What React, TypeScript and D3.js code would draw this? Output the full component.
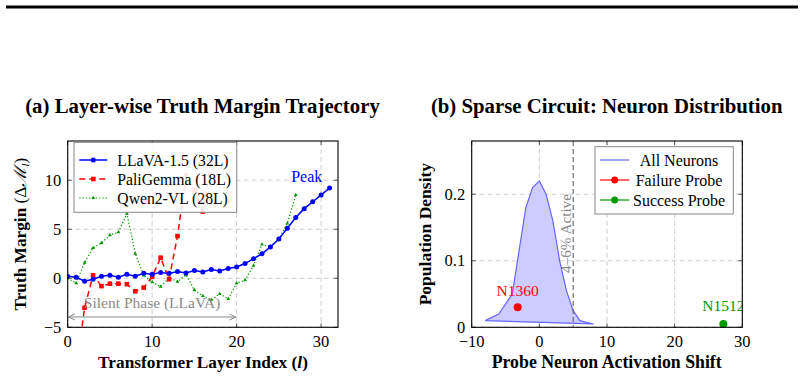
import React from "react";
import * as d3 from "d3";

// ---- data ----
const llavaMargin = [
  0.2, 0.1, -0.3, -0.1, 0.2, 0.3, 0.1, 0.4, 0.2, 0.5, 0.4, 0.6, 0.5, 0.7, 0.55, 0.8,
  0.65, 0.9, 0.75, 1.0, 1.15, 1.5, 2.0, 2.5, 3.2, 4.0, 5.1, 6.2, 7.1, 7.8, 8.5, 9.2,
];
const paliMargin = [
  -15, -9.5, -3.0, 0.3, -0.8, -0.55, -0.55, -0.6, -1.33, -0.95, 0.15, 2.1, -0.1, 4.3,
  10.5, 9.0, 6.8, 12.0,
];
const qwenMargin = [
  0.0, -0.5, 1.6, 3.1, 3.6, 4.4, 4.7, 6.6, 2.5, 0.3, -0.4, -0.85, 0.05, -0.35, 0.35,
  -1.2, -1.8, -2.2, -1.6, -2.1, -0.5, -0.2, 1.3, 3.45, 3.2, 4.0, 5.6, 8.5,
];

const densityX = [-8, -6, -4, -2, -1, 0, 1, 2, 3, 4, 5, 6, 8];
const densityY = [0.01, 0.02, 0.05, 0.18, 0.21, 0.22, 0.2, 0.16, 0.1, 0.055, 0.025, 0.01, 0.005];

const failureProbe = { name: "N1360", x: -3.2, y: 0.03 };
const successProbe = { name: "N1512", x: 27.2, y: 0.005 };

const leftXTicks = [0, 10, 20, 30];
const leftYTicks = [-5, 0, 5, 10];
const rightXTicks = [-10, 0, 10, 20, 30];
const rightYTicks = [0, 0.1, 0.2];

const FONT = "'Liberation Serif', 'Times New Roman', serif";
const BLUE = "#0000ff";
const RED = "#ff0000";
const GREEN = "#009900";
const GRID = "#cfcfcf";

const fmt = (v: number) => (v < 0 ? "\u2212" + Math.abs(v) : String(v));

const App: React.FC = () => {
  // left panel
  const L = { left: 67.7, right: 338, top: 141, bottom: 327.3 };
  const xL = d3.scaleLinear().domain([0, 32]).range([L.left, L.right]);
  const yL = d3.scaleLinear().domain([-5, 14]).range([L.bottom, L.top]);

  // right panel
  const R = { left: 471.7, right: 742.3, top: 141, bottom: 327.3 };
  const xR = d3.scaleLinear().domain([-10, 30]).range([R.left, R.right]);
  const yR = d3.scaleLinear().domain([0, 0.28]).range([R.bottom, R.top]);

  const lineL = d3
    .line<number>()
    .x((_, i) => xL(i))
    .y((d) => yL(d));

  const densityPts: [number, number][] = densityX.map((x, i) => [xR(x), yR(densityY[i])]);
  const densityPath = d3.line()(densityPts) + "Z";

  const tri = (cx: number, cy: number, s: number) =>
    `M${cx},${cy - s} L${cx + s * 0.87},${cy + s * 0.5} L${cx - s * 0.87},${cy + s * 0.5}Z`;

  const frame = (B: typeof L, xs: number[], ys: number[], xs_: (v: number) => number, ys_: (v: number) => number) => (
    <g>
      {xs.map((t) => (
        <line key={"gx" + t} x1={xs_(t)} x2={xs_(t)} y1={B.top} y2={B.bottom} stroke={GRID} strokeDasharray="5,3" />
      ))}
      {ys.map((t) => (
        <line key={"gy" + t} x1={B.left} x2={B.right} y1={ys_(t)} y2={ys_(t)} stroke={GRID} strokeDasharray="5,3" />
      ))}
    </g>
  );

  const ticksAndBox = (B: typeof L, xs: number[], ys: number[], xs_: (v: number) => number, ys_: (v: number) => number, yfmt: (v: number) => string) => (
    <g>
      {xs.map((t) => (
        <g key={"tx" + t}>
          <line x1={xs_(t)} x2={xs_(t)} y1={B.bottom} y2={B.bottom - 4} stroke="#333" strokeWidth={0.8} />
          <line x1={xs_(t)} x2={xs_(t)} y1={B.top} y2={B.top + 4} stroke="#333" strokeWidth={0.8} />
          <text x={xs_(t)} y={B.bottom + 20} textAnchor="middle" fontSize={16.5} fontFamily={FONT}>
            {fmt(t)}
          </text>
        </g>
      ))}
      {ys.map((t) => (
        <g key={"ty" + t}>
          <line x1={B.left} x2={B.left + 4} y1={ys_(t)} y2={ys_(t)} stroke="#333" strokeWidth={0.8} />
          <line x1={B.right} x2={B.right - 4} y1={ys_(t)} y2={ys_(t)} stroke="#333" strokeWidth={0.8} />
          <text x={B.left - 6.5} y={ys_(t) + 5.5} textAnchor="end" fontSize={16.5} fontFamily={FONT}>
            {yfmt(t)}
          </text>
        </g>
      ))}
      <rect x={B.left} y={B.top} width={B.right - B.left} height={B.bottom - B.top} fill="none" stroke="#000" strokeWidth={1.1} />
    </g>
  );

  const legL = { x: 74, y: 142.3, w: 162.7, h: 70 };
  const legR = { x: 595, y: 146.7, w: 138.3, h: 67.3 };

  return (
    <svg width={804} height={380} style={{ position: "absolute", left: 0, top: 0, background: "#fff" }} fontFamily={FONT}>
      <defs>
        <clipPath id="clipL">
          <rect x={L.left} y={L.top} width={L.right - L.left} height={L.bottom - L.top} />
        </clipPath>
        <clipPath id="clipR">
          <rect x={R.left} y={R.top} width={R.right - R.left} height={R.bottom - R.top} />
        </clipPath>
        <marker id="arr" viewBox="0 0 10 10" refX="9" refY="5" markerWidth="7" markerHeight="7" orient="auto-start-reverse">
          <path d="M1,1 L9,5 L1,9" fill="none" stroke="#8a8a8a" strokeWidth={1.3} />
        </marker>
      </defs>

      <rect x={6} y={5.5} width={792} height={3} fill="#000" />

      {/* ---------- (a) ---------- */}
      <text x={202.5} y={113} textAnchor="middle" fontWeight="bold" fontSize={20.8}>
        (a) Layer-wise Truth Margin Trajectory
      </text>
      {frame(L, leftXTicks, leftYTicks, xL, yL)}

      <g clipPath="url(#clipL)">
        <path d={lineL(qwenMargin) || ""} fill="none" stroke={GREEN} strokeWidth={1.2} strokeDasharray="1.3,2" />
        {qwenMargin.map((v, i) => (
          <path key={"q" + i} d={tri(xL(i), yL(v), 2.2)} fill={GREEN} />
        ))}
        <path d={lineL(paliMargin) || ""} fill="none" stroke={RED} strokeWidth={1.5} strokeDasharray="6,4" />
        {paliMargin.map((v, i) => (
          <rect key={"p" + i} x={xL(i) - 2.3} y={yL(v) - 2.3} width={4.6} height={4.6} fill={RED} />
        ))}
        <path d={lineL(llavaMargin) || ""} fill="none" stroke={BLUE} strokeWidth={1.5} />
        {llavaMargin.map((v, i) => (
          <circle key={"l" + i} cx={xL(i)} cy={yL(v)} r={2.5} fill={BLUE} />
        ))}
      </g>

      <text x={xL(28.3)} y={yL(10.3) + 5} textAnchor="middle" fontSize={16} fill={BLUE}>
        Peak
      </text>
      <text x={xL(10)} y={yL(-2.5) + 5} textAnchor="middle" fontSize={15.5} fill="#8a8a8a">
        Silent Phase (LLaVA)
      </text>
      <line x1={xL(0) + 1} x2={xL(20) - 1} y1={yL(-3.95)} y2={yL(-3.95)} stroke="#8a8a8a" strokeWidth={1.1} markerStart="url(#arr)" markerEnd="url(#arr)" />

      {ticksAndBox(L, leftXTicks, leftYTicks, xL, yL, fmt)}

      {/* legend (a) */}
      <rect x={legL.x} y={legL.y} width={legL.w} height={legL.h} fill="#fff" fillOpacity={0.9} stroke="#888" strokeWidth={1} />
      {[
        { label: "LLaVA-1.5 (32L)", color: BLUE, dash: "none", w: 1.5, mk: "c" },
        { label: "PaliGemma (18L)", color: RED, dash: "6,4", w: 1.5, mk: "s" },
        { label: "Qwen2-VL (28L)", color: GREEN, dash: "1.3,2", w: 1.2, mk: "t" },
      ].map((e, i) => {
        const cy = 160 + i * 19;
        return (
          <g key={e.label}>
            <line x1={79.3} x2={107.3} y1={cy} y2={cy} stroke={e.color} strokeWidth={e.w} strokeDasharray={e.dash} />
            {e.mk === "c" && <circle cx={93.3} cy={cy} r={2.5} fill={e.color} />}
            {e.mk === "s" && <rect x={91} y={cy - 2.3} width={4.6} height={4.6} fill={e.color} />}
            {e.mk === "t" && <path d={tri(93.3, cy, 2.2)} fill={e.color} />}
            <text x={117.3} y={cy + 5.5} fontSize={15.7}>
              {e.label}
            </text>
          </g>
        );
      })}

      <text x={203} y={367.5} textAnchor="middle" fontWeight="bold" fontSize={17.3}>
        Transformer Layer Index (<tspan fontStyle="italic">l</tspan>)
      </text>
      <text transform={`translate(26,${(L.top + L.bottom) / 2}) rotate(-90)`} textAnchor="middle" fontSize={17.3}>
        <tspan fontWeight="bold">Truth Margin </tspan>
        <tspan>(Δ</tspan>
        <tspan fontStyle="italic">ℳ</tspan>
        <tspan fontStyle="italic" fontSize={11} dy={3}>l</tspan>
        <tspan dy={-3}>)</tspan>
      </text>

      {/* ---------- (b) ---------- */}
      <text x={606.7} y={113} textAnchor="middle" fontWeight="bold" fontSize={20.8}>
        (b) Sparse Circuit: Neuron Distribution
      </text>
      {frame(R, rightXTicks, rightYTicks, xR, yR)}

      <g clipPath="url(#clipR)">
        <path d={densityPath} fill="#ccccff" stroke="#6666ff" strokeWidth={1.2} />
        <line x1={xR(5)} x2={xR(5)} y1={R.top} y2={R.bottom} stroke="#555" strokeWidth={1} strokeDasharray="5,3" />
        <circle cx={xR(failureProbe.x)} cy={yR(failureProbe.y)} r={4} fill={RED} />
        <circle cx={xR(successProbe.x)} cy={yR(successProbe.y)} r={4} fill={GREEN} />
        <text x={xR(successProbe.x)} y={yR(successProbe.y) - 13} textAnchor="middle" fontSize={15.5} fill={GREEN}>
          {successProbe.name}
        </text>
      </g>
      <text x={xR(failureProbe.x)} y={yR(failureProbe.y) - 11.5} textAnchor="middle" fontSize={15.5} fill={RED}>
        {failureProbe.name}
      </text>
      <text transform={`translate(${xR(5) - 2.5},${yR(0.141)}) rotate(-90)`} textAnchor="middle" fontSize={15.2} fill="#8a8a8a">
        4–6% Active
      </text>

      {ticksAndBox(R, rightXTicks, rightYTicks, xR, yR, (v) => String(v))}

      {/* legend (b) */}
      <rect x={legR.x} y={legR.y} width={legR.w} height={legR.h} fill="#fff" fillOpacity={0.9} stroke="#888" strokeWidth={1} />
      {[
        { label: "All Neurons", color: "#6666ff", dot: false },
        { label: "Failure Probe", color: RED, dot: true },
        { label: "Success Probe", color: GREEN, dot: true },
      ].map((e, i) => {
        const cy = 160 + i * 20;
        return (
          <g key={e.label}>
            <line x1={600} x2={629.3} y1={cy} y2={cy} stroke={e.color} strokeWidth={1.2} />
            {e.dot && <circle cx={614.7} cy={cy} r={3.5} fill={e.color} />}
            <text x={679} y={cy + 5.5} textAnchor="middle" fontSize={16}>
              {e.label}
            </text>
          </g>
        );
      })}

      <text x={606.7} y={367.5} textAnchor="middle" fontWeight="bold" fontSize={17.8}>
        Probe Neuron Activation Shift
      </text>
      <text transform={`translate(431,${(R.top + R.bottom) / 2}) rotate(-90)`} textAnchor="middle" fontWeight="bold" fontSize={17.5}>
        Population Density
      </text>
    </svg>
  );
};

export default App;
